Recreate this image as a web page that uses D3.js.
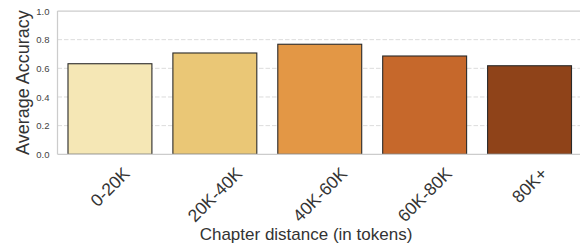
<!DOCTYPE html>
<html><head><meta charset="utf-8">
<script src="https://cdn.jsdelivr.net/npm/d3@7"></script>
<style>body{margin:0;background:#fff}svg{display:block}text{font-family:"Liberation Sans",Arial,sans-serif}</style>
</head><body>
<script>
const categories = ["0-20K","20K-40K","40K-60K","60K-80K","80K+"];
const accuracy = [0.632, 0.707, 0.768, 0.686, 0.618];
const barColors = ["#f5e7b5","#eac776","#e39745","#c6682b","#8f4319"];
const yTicks = [0.0, 0.2, 0.4, 0.6, 0.8, 1.0];

const W = 580, H = 247;
const m = {left: 57.5, right: 582, top: 11, bottom: 154.3};
const svg = d3.select("body").append("svg").attr("width", W).attr("height", H);

const x = d3.scaleBand().domain(categories).range([m.left, m.right]).paddingInner(0.2).paddingOuter(0.1);
const y = d3.scaleLinear().domain([0, 1]).range([m.bottom, m.top]);

// grid
svg.append("g").selectAll("line").data(yTicks.filter(t => t > 0 && t < 1)).join("line")
  .attr("x1", m.left).attr("x2", W).attr("y1", d => y(d)).attr("y2", d => y(d))
  .attr("stroke", "#dcdcdc").attr("stroke-width", 1).attr("stroke-dasharray", "4.5,2");

// bars
svg.append("g").selectAll("rect").data(categories).join("rect")
  .attr("x", d => x(d)).attr("width", x.bandwidth())
  .attr("y", (d, i) => y(accuracy[i])).attr("height", (d, i) => y(0) - y(accuracy[i]))
  .attr("fill", (d, i) => barColors[i]).attr("stroke", "#2a2a2a").attr("stroke-width", 1.1);

// spines
svg.append("line").attr("x1", m.left).attr("x2", m.left).attr("y1", m.top).attr("y2", m.bottom).attr("stroke", "#cccccc").attr("stroke-width", 1.25);
svg.append("line").attr("x1", m.left).attr("x2", W).attr("y1", m.bottom).attr("y2", m.bottom).attr("stroke", "#cccccc").attr("stroke-width", 1.25);
svg.append("line").attr("x1", m.left).attr("x2", W).attr("y1", m.top).attr("y2", m.top).attr("stroke", "#cccccc").attr("stroke-width", 1.25);

// y axis
const yAxis = d3.axisLeft(y).tickValues(yTicks).tickFormat(d3.format(".1f")).tickSize(0).tickPadding(8);
const ya = svg.append("g").attr("transform", `translate(${m.left},0)`).call(yAxis);
ya.select(".domain").remove();
ya.selectAll("text").attr("font-size", 9.5).attr("fill", "#444").style("font-family", '"Liberation Sans",Arial,sans-serif');

// x tick labels rotated 45
const xl = svg.append("g");
categories.forEach(c => {
  const t = xl.append("text").text(c).attr("font-size", 17.5).attr("fill", "#333")
    .attr("text-anchor", "middle").attr("dy", "0.35em");
  const w = t.node().getComputedTextLength();
  const h = 12.5;
  const cy = 166 + (w + h) / (2 * Math.SQRT2);
  t.attr("transform", `translate(${x(c) + x.bandwidth() / 2},${cy}) rotate(-45)`);
});

// axis titles
svg.append("text").text("Average Accuracy").attr("font-size", 18).attr("fill", "#333")
  .attr("text-anchor", "middle").attr("transform", `translate(29,${(m.top + m.bottom) / 2}) rotate(-90)`);
svg.append("text").text("Chapter distance (in tokens)").attr("font-size", 17).attr("fill", "#333")
  .attr("text-anchor", "middle").attr("x", 306).attr("y", 240);
</script>
</body></html>
